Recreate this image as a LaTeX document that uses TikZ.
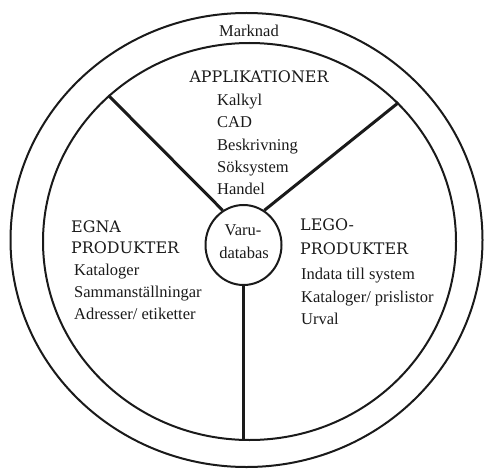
\documentclass[tikz,border=0pt]{standalone}
\usepackage{fontspec}
\setmainfont{Liberation Serif}
\newfontfamily\capsfont{DejaVu Serif}
\usetikzlibrary{shapes.geometric}
\definecolor{ink}{HTML}{1A1A1A}

\begin{document}
\begin{tikzpicture}[x=1pt,y=-1pt,
    ring/.style={ellipse,draw=ink,line width=2pt,inner sep=0pt},
    spoke/.style={draw=ink,line width=3pt},
    mid text/.style={anchor=base,inner sep=0pt,text=ink,font=\fontsize{16.5}{22}\selectfont},
    list text/.style={anchor=base west,inner sep=0pt,text=ink,font=\fontsize{16.5}{22}\selectfont},
    head text/.style={anchor=base west,inner sep=0pt,text=ink,font=\capsfont\fontsize{15.9}{22}\selectfont}]
  \useasboundingbox (0,0) rectangle (484,468);
  \node[ring,minimum width=472pt,minimum height=454pt] (market) at (246.5,240) {};
  \node[ring,minimum width=413pt,minimum height=397pt] (wheel) at (249.5,241.5) {};
  \node[ring,minimum width=76pt,minimum height=80pt] (db) at (243.5,245) {};
  \draw[spoke] (db.121) -- (wheel.134);
  \draw[spoke] (db.59) -- (wheel.43.6);
  \draw[spoke] (db.south) -- (db.south |- wheel.south);
  \node[mid text] (mkt) at (249,37) {Marknad};
  \node[mid text] (varu) at (243,235) {Varu-};
  \node[mid text] (databas) at (244,258) {databas};
  \node[head text,anchor=base] (apps) at (259,83) {APPLIKATIONER};
  \foreach \t [count=\i] in {Kalkyl,CAD,Beskrivning,Söksystem,Handel}
    \node[list text] (app\i) at (217,84+22*\i) {\t};
  \node[head text] (egna) at (71,232) {EGNA};
  \node[head text] (egnaprod) at (71,253) {PRODUKTER};
  \foreach \t [count=\i] in {Kataloger,Sammanställningar,Adresser/ etiketter}
    \node[list text] (egna\i) at (74,253+22*\i) {\t};
  \node[head text] (lego) at (300,230) {LEGO-};
  \node[head text] (legoprod) at (300,254) {PRODUKTER};
  \foreach \t [count=\i] in {Indata till system,Kataloger/ prislistor,Urval}
    \node[list text] (lego\i) at (301,257+22.5*\i) {\t};
\end{tikzpicture}
\end{document}
